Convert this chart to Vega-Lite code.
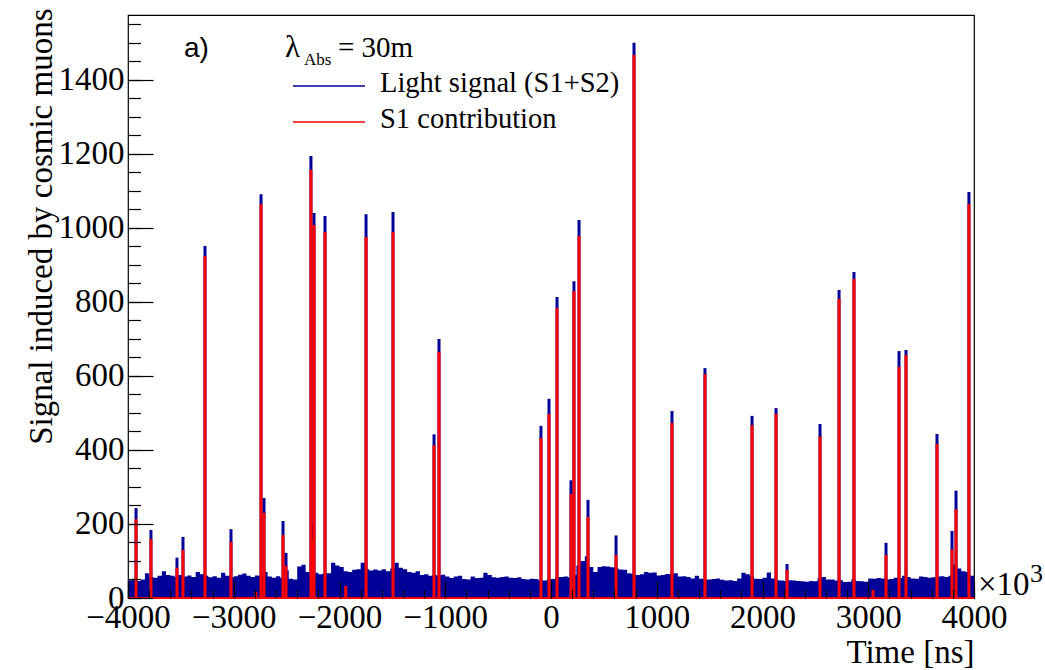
{
 "$schema": "https://vega.github.io/schema/vega-lite/v6.json",
 "width": 846, "height": 583,
 "autosize": {"type": "none"},
 "padding": {"left": 128, "top": 15, "right": 71, "bottom": 72},
 "background": "white",
 "config": {
  "view": {"stroke": "black", "strokeWidth": 1.2},
  "style": {"guide-label": {"font": "Liberation Serif"}, "guide-title": {"font": "Liberation Serif"}},
  "axis": {"grid": false, "labelFont": "Liberation Serif", "titleFont": "Liberation Serif", "labelColor": "black", "titleColor": "black", "tickColor": "black", "domainColor": "black", "titleFontWeight": "normal"}
 },
 "datasets": {
  "bg": [
   {"t":-4000,"v":48},{"t":-3960,"v":52},{"t":-3920,"v":46},{"t":-3880,"v":50},{"t":-3840,"v":67},{"t":-3800,"v":57},{"t":-3760,"v":55},{"t":-3720,"v":60},{"t":-3680,"v":72},{"t":-3640,"v":62},
   {"t":-3600,"v":60},{"t":-3560,"v":57},{"t":-3520,"v":62},{"t":-3480,"v":58},{"t":-3440,"v":61},{"t":-3400,"v":57},{"t":-3360,"v":70},{"t":-3320,"v":64},{"t":-3280,"v":60},{"t":-3240,"v":56},
   {"t":-3200,"v":59},{"t":-3160,"v":55},{"t":-3120,"v":68},{"t":-3080,"v":60},{"t":-3040,"v":56},{"t":-3000,"v":59},{"t":-2960,"v":63},{"t":-2920,"v":66},{"t":-2880,"v":60},{"t":-2840,"v":57},
   {"t":-2800,"v":61},{"t":-2760,"v":58},{"t":-2720,"v":70},{"t":-2680,"v":58},{"t":-2640,"v":55},{"t":-2600,"v":59},{"t":-2560,"v":54},{"t":-2520,"v":75},{"t":-2480,"v":52},{"t":-2440,"v":50},
   {"t":-2400,"v":85},{"t":-2360,"v":90},{"t":-2320,"v":70},{"t":-2280,"v":66},{"t":-2240,"v":68},{"t":-2200,"v":64},{"t":-2160,"v":66},{"t":-2120,"v":67},{"t":-2080,"v":95},{"t":-2040,"v":88},
   {"t":-2000,"v":84},{"t":-1960,"v":72},{"t":-1920,"v":70},{"t":-1880,"v":76},{"t":-1840,"v":78},{"t":-1800,"v":95},{"t":-1760,"v":78},{"t":-1720,"v":74},{"t":-1680,"v":77},{"t":-1640,"v":74},
   {"t":-1600,"v":78},{"t":-1560,"v":72},{"t":-1520,"v":80},{"t":-1480,"v":95},{"t":-1440,"v":82},{"t":-1400,"v":78},{"t":-1360,"v":70},{"t":-1320,"v":68},{"t":-1280,"v":72},{"t":-1240,"v":62},
   {"t":-1200,"v":64},{"t":-1160,"v":60},{"t":-1120,"v":62},{"t":-1080,"v":60},{"t":-1040,"v":63},{"t":-1000,"v":58},{"t":-960,"v":54},{"t":-920,"v":58},{"t":-880,"v":60},{"t":-840,"v":51},
   {"t":-800,"v":50},{"t":-760,"v":58},{"t":-720,"v":54},{"t":-680,"v":55},{"t":-640,"v":68},{"t":-600,"v":62},{"t":-560,"v":56},{"t":-520,"v":55},{"t":-480,"v":57},{"t":-440,"v":58},
   {"t":-400,"v":55},{"t":-360,"v":54},{"t":-320,"v":56},{"t":-280,"v":51},{"t":-240,"v":50},{"t":-200,"v":52},{"t":-160,"v":51},{"t":-120,"v":48},{"t":-80,"v":47},{"t":-40,"v":50},
   {"t":0,"v":51},{"t":40,"v":56},{"t":80,"v":57},{"t":120,"v":58},{"t":160,"v":56},{"t":200,"v":62},{"t":240,"v":88},{"t":280,"v":100},{"t":320,"v":113},{"t":360,"v":84},
   {"t":400,"v":70},{"t":440,"v":84},{"t":480,"v":86},{"t":520,"v":85},{"t":560,"v":83},{"t":600,"v":80},{"t":640,"v":77},{"t":680,"v":76},{"t":720,"v":67},{"t":760,"v":65},
   {"t":800,"v":62},{"t":840,"v":64},{"t":880,"v":70},{"t":920,"v":68},{"t":960,"v":69},{"t":1000,"v":61},{"t":1040,"v":62},{"t":1080,"v":65},{"t":1120,"v":64},{"t":1160,"v":67},
   {"t":1200,"v":58},{"t":1240,"v":59},{"t":1280,"v":57},{"t":1320,"v":53},{"t":1360,"v":60},{"t":1400,"v":52},{"t":1440,"v":49},{"t":1480,"v":50},{"t":1520,"v":51},{"t":1560,"v":53},
   {"t":1600,"v":49},{"t":1640,"v":47},{"t":1680,"v":48},{"t":1720,"v":46},{"t":1760,"v":53},{"t":1800,"v":68},{"t":1840,"v":64},{"t":1880,"v":58},{"t":1920,"v":52},{"t":1960,"v":51},
   {"t":2000,"v":55},{"t":2040,"v":69},{"t":2080,"v":53},{"t":2120,"v":48},{"t":2160,"v":47},{"t":2200,"v":46},{"t":2240,"v":48},{"t":2280,"v":47},{"t":2320,"v":46},{"t":2360,"v":45},
   {"t":2400,"v":44},{"t":2440,"v":46},{"t":2480,"v":45},{"t":2520,"v":53},{"t":2560,"v":57},{"t":2600,"v":50},{"t":2640,"v":50},{"t":2680,"v":47},{"t":2720,"v":48},{"t":2760,"v":43},
   {"t":2800,"v":44},{"t":2840,"v":50},{"t":2880,"v":46},{"t":2920,"v":45},{"t":2960,"v":44},{"t":3000,"v":53},{"t":3040,"v":52},{"t":3080,"v":54},{"t":3120,"v":53},{"t":3160,"v":50},
   {"t":3200,"v":51},{"t":3240,"v":55},{"t":3280,"v":54},{"t":3320,"v":60},{"t":3360,"v":57},{"t":3400,"v":53},{"t":3440,"v":52},{"t":3480,"v":58},{"t":3520,"v":57},{"t":3560,"v":55},
   {"t":3600,"v":56},{"t":3640,"v":58},{"t":3680,"v":59},{"t":3720,"v":57},{"t":3760,"v":60},{"t":3800,"v":90},{"t":3840,"v":80},{"t":3880,"v":72},{"t":3920,"v":70},{"t":3960,"v":60},
   {"t":4000,"v":60}
  ],
  "spikes": [
   {"t":-3924,"total":243,"s1":213},{"t":-3783,"total":184,"s1":159},{"t":-3537,"total":109,"s1":82},{"t":-3480,"total":165,"s1":130},
   {"t":-3272,"total":951,"s1":924},{"t":-3026,"total":186,"s1":152},{"t":-2790,"total":17,"s1":17},{"t":-2742,"total":1091,"s1":1064},
   {"t":-2714,"total":270,"s1":230},{"t":-2534,"total":208,"s1":170},{"t":-2506,"total":122,"s1":87},{"t":-2270,"total":1194,"s1":1156},
   {"t":-2251,"total":203,"s1":157},{"t":-2241,"total":1040,"s1":1008},{"t":-2137,"total":1032,"s1":989},{"t":-1941,"total":32,"s1":32},
   {"t":-1749,"total":1037,"s1":975},{"t":-1494,"total":1043,"s1":989},{"t":-1106,"total":442,"s1":413},{"t":-1059,"total":700,"s1":665},
   {"t":-95,"total":465,"s1":432},{"t":-19,"total":538,"s1":497},{"t":57,"total":813,"s1":783},{"t":189,"total":318,"s1":281},
   {"t":217,"total":856,"s1":829},{"t":265,"total":1021,"s1":978},{"t":350,"total":265,"s1":219},{"t":615,"total":169,"s1":116},
   {"t":785,"total":1500,"s1":1467},{"t":1144,"total":505,"s1":473},{"t":1456,"total":621,"s1":605},{"t":1901,"total":492,"s1":467},
   {"t":2128,"total":513,"s1":497},{"t":2232,"total":92,"s1":76},{"t":2544,"total":470,"s1":436},{"t":2724,"total":832,"s1":808},
   {"t":2865,"total":881,"s1":862},{"t":3045,"total":22,"s1":22},{"t":3168,"total":149,"s1":116},{"t":3291,"total":667,"s1":624},
   {"t":3357,"total":670,"s1":656},{"t":3650,"total":443,"s1":416},{"t":3792,"total":181,"s1":131},{"t":3830,"total":290,"s1":240},
   {"t":3952,"total":1097,"s1":1064}
  ]
 },
 "resolve": {"axis": {"x": "independent", "y": "independent"}},
 "layer": [
  {
   "data": {"name": "bg"},
   "mark": {"type": "area", "interpolate": "step-after", "color": "#000099"},
   "encoding": {
    "x": {"field": "t", "type": "quantitative", "scale": {"domain": [-4000, 4000], "nice": false, "zero": false},
     "axis": {"orient": "bottom", "title": "Time [ns]", "titleAnchor": "end", "titleFont": "Liberation Serif", "titleFontSize": 33, "titlePadding": 2,
      "values": [-4000,-3000,-2000,-1000,0,1000,2000,3000,4000], "format": "d", "labelFont": "Liberation Serif", "labelFontSize": 33, "labelPadding": 3,
      "ticks": false, "domain": false, "labelFlush": false, "labelOverlap": false,
      "encode": {"labels": {"update": {"font": {"value": "Liberation Serif"}}}}}},
    "y": {"field": "v", "type": "quantitative", "scale": {"domain": [0, 1575], "nice": false},
     "axis": {"orient": "left", "title": "Signal induced by cosmic muons", "titleAnchor": "end", "titleFont": "Liberation Serif", "titleFontSize": 33, "titlePadding": 0, "titleY": -7,
      "values": [0,200,400,600,800,1000,1200,1400], "format": "d", "labelFont": "Liberation Serif", "labelFontSize": 33, "labelPadding": 4,
      "ticks": false, "domain": false, "labelFlush": false, "labelOverlap": false,
      "encode": {"labels": {"update": {"font": {"value": "Liberation Serif"}}}}}}
   }
  },
  {
   "data": {"name": "spikes"},
   "mark": {"type": "rule", "color": "#000099", "strokeWidth": 3},
   "encoding": {
    "x": {"field": "t", "type": "quantitative",
     "axis": {"orient": "bottom", "values": [-4000,-3000,-2000,-1000,0,1000,2000,3000,4000], "tickSize": -17, "tickWidth": 1.2, "labels": false, "domain": false, "title": null, "zindex": 1}},
    "y": {"field": "total", "type": "quantitative",
     "axis": {"orient": "left", "values": [0,200,400,600,800,1000,1200,1400], "tickSize": -25, "tickWidth": 1.2, "labels": false, "domain": false, "title": null, "zindex": 1}},
    "y2": {"datum": 0}
   }
  },
  {
   "data": {"values": [{}]},
   "mark": {"type": "rule", "color": "#ff0000", "strokeWidth": 2},
   "encoding": {"y": {"datum": 0, "axis": null}}
  },
  {
   "data": {"name": "spikes"},
   "mark": {"type": "rule", "color": "#ff0000", "strokeWidth": 3},
   "encoding": {
    "x": {"field": "t", "type": "quantitative",
     "axis": {"orient": "bottom", "values": [-4000,-3800,-3600,-3400,-3200,-3000,-2800,-2600,-2400,-2200,-2000,-1800,-1600,-1400,-1200,-1000,-800,-600,-400,-200,0,200,400,600,800,1000,1200,1400,1600,1800,2000,2200,2400,2600,2800,3000,3200,3400,3600,3800,4000], "tickSize": -8.5, "tickWidth": 1.2, "labels": false, "domain": false, "title": null, "zindex": 1}},
    "y": {"field": "s1", "type": "quantitative",
     "axis": {"orient": "left", "values": [0,50,100,150,200,250,300,350,400,450,500,550,600,650,700,750,800,850,900,950,1000,1050,1100,1150,1200,1250,1300,1350,1400,1450,1500,1550], "tickSize": -12.5, "tickWidth": 1.2, "labels": false, "domain": false, "title": null, "zindex": 1}},
    "y2": {"datum": 0}
   }
  },
  {
   "data": {"values": [{}]},
   "mark": {"type": "rule", "color": "#000099", "strokeWidth": 1.5},
   "encoding": {"x": {"datum": -2440, "axis": null}, "x2": {"datum": -1759}, "y": {"datum": 1383, "axis": null}}
  },
  {
   "data": {"values": [{}]},
   "mark": {"type": "rule", "color": "#ff0000", "strokeWidth": 1.5},
   "encoding": {"x": {"datum": -2440, "axis": null}, "x2": {"datum": -1759}, "y": {"datum": 1286, "axis": null}}
  },
  {
   "data": {"values": [{}]},
   "mark": {"type": "text", "text": "Light signal (S1+S2)", "font": "Liberation Serif", "fontSize": 28.5, "align": "left", "baseline": "alphabetic", "color": "black"},
   "encoding": {"x": {"datum": -1617, "axis": null}, "y": {"datum": 1367, "axis": null}}
  },
  {
   "data": {"values": [{}]},
   "mark": {"type": "text", "text": "S1 contribution", "font": "Liberation Serif", "fontSize": 28.5, "align": "left", "baseline": "alphabetic", "color": "black"},
   "encoding": {"x": {"datum": -1617, "axis": null}, "y": {"datum": 1270, "axis": null}}
  },
  {
   "data": {"values": [{}]},
   "mark": {"type": "text", "text": "a)", "font": "Liberation Sans", "fontSize": 28, "align": "left", "baseline": "alphabetic", "color": "black"},
   "encoding": {"x": {"datum": -3470, "axis": null}, "y": {"datum": 1461, "axis": null}}
  },
  {
   "data": {"values": [{}]},
   "mark": {"type": "text", "text": "λ", "font": "Liberation Serif", "fontSize": 31, "align": "left", "baseline": "alphabetic", "color": "black"},
   "encoding": {"x": {"datum": -2515, "axis": null}, "y": {"datum": 1461, "axis": null}}
  },
  {
   "data": {"values": [{}]},
   "mark": {"type": "text", "text": "Abs", "font": "Liberation Serif", "fontSize": 17, "align": "left", "baseline": "alphabetic", "color": "black"},
   "encoding": {"x": {"datum": -2336, "axis": null}, "y": {"datum": 1440, "axis": null}}
  },
  {
   "data": {"values": [{}]},
   "mark": {"type": "text", "text": "= 30m", "font": "Liberation Serif", "fontSize": 29, "align": "left", "baseline": "alphabetic", "color": "black"},
   "encoding": {"x": {"datum": -2014, "axis": null}, "y": {"datum": 1461, "axis": null}}
  },
  {
   "data": {"values": [{}]},
   "mark": {"type": "text", "text": "×10", "font": "Liberation Serif", "fontSize": 33, "align": "left", "baseline": "alphabetic", "color": "black", "dx": 4, "dy": -3},
   "encoding": {"x": {"datum": 4000, "axis": null}, "y": {"datum": 0, "axis": null}}
  },
  {
   "data": {"values": [{}]},
   "mark": {"type": "text", "text": "3", "font": "Liberation Serif", "fontSize": 26, "align": "left", "baseline": "alphabetic", "color": "black", "dx": 56, "dy": -16},
   "encoding": {"x": {"datum": 4000, "axis": null}, "y": {"datum": 0, "axis": null}}
  }
 ]
}
